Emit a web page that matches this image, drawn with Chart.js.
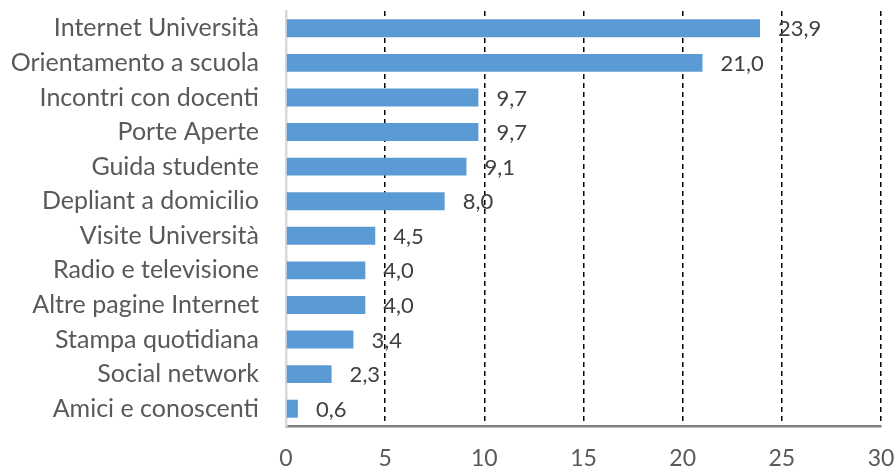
<!DOCTYPE html>
<html>
<head>
<meta charset="utf-8">
<script src="https://cdn.jsdelivr.net/npm/chart.js@4"></script>
<style>
    html, body { margin: 0; padding: 0; background: #fff; }
    #wrap { width: 896px; height: 471px; }
</style>
</head>
<body>
<div id="wrap"><canvas id="fontiChart"></canvas></div>
<script>
// fonti di informazione (%)
const categories = [
    'Internet Università', 'Orientamento a scuola', 'Incontri con docenti', 'Porte Aperte',
    'Guida studente', 'Depliant a domicilio', 'Visite Università', 'Radio e televisione',
    'Altre pagine Internet', 'Stampa quotidiana', 'Social network', 'Amici e conoscenti'
];
const values = [23.9, 21.0, 9.7, 9.7, 9.1, 8.0, 4.5, 4.0, 4.0, 3.4, 2.3, 0.6];
const xTicks = [0, 5, 10, 15, 20, 25, 30];

const FONT = 'Lato, "Open Sans", sans-serif';

// etichette con i valori a destra delle barre
const valueLabels = {
    id: 'valueLabels',
    afterDatasetsDraw(chart) {
        const ctx = chart.ctx;
        const meta = chart.getDatasetMeta(0);
        ctx.save();
        ctx.font = '22px ' + FONT;
        ctx.fillStyle = '#404040';
        ctx.textAlign = 'left';
        ctx.textBaseline = 'middle';
        meta.data.forEach((bar, i) => {
            ctx.fillText(values[i].toFixed(1).replace('.', ','), bar.x + 18, bar.y + 1);
        });
        ctx.restore();
    }
};

new Chart(document.getElementById('fontiChart'), {
    type: 'bar',
    data: {
        labels: categories,
        datasets: [{
            data: values,
            backgroundColor: '#5B9BD5',
            borderWidth: 0,
            barPercentage: 0.52,
            categoryPercentage: 1
        }]
    },
    options: {
        indexAxis: 'y',
        responsive: true,
        maintainAspectRatio: false,
        animation: false,
        layout: { padding: { left: 0, right: 15, top: 11, bottom: 0 } },
        plugins: {
            legend: { display: false },
            tooltip: { enabled: false }
        },
        scales: {
            x: {
                min: 0,
                max: 30,
                afterBuildTicks: scale => { scale.ticks = xTicks.map(v => ({ value: v })); },
                afterFit: scale => {
                    scale.height = 45;
                    scale.paddingLeft = 0;
                    scale.paddingRight = 0;
                },
                ticks: {
                    padding: 19,
                    color: '#595959',
                    font: { family: FONT, size: 23 }
                },
                grid: {
                    color: '#000',
                    lineWidth: 1.5,
                    drawTicks: false
                },
                border: {
                    color: '#808080',
                    width: 2.5,
                    dash: [5, 4]
                }
            },
            y: {
                afterFit: scale => {
                    scale.width = 286;
                    // niente margine extra sopra/sotto dovuto al padding delle etichette
                    scale.paddingTop = 0;
                    scale.paddingBottom = 0;
                },
                ticks: {
                    padding: 27,
                    color: '#595959',
                    font: { family: FONT, size: 25 }
                },
                grid: { display: false, drawTicks: false },
                border: { color: '#D9D9D9', width: 2.5 }
            }
        }
    },
    plugins: [valueLabels]
});
</script>
</body>
</html>
